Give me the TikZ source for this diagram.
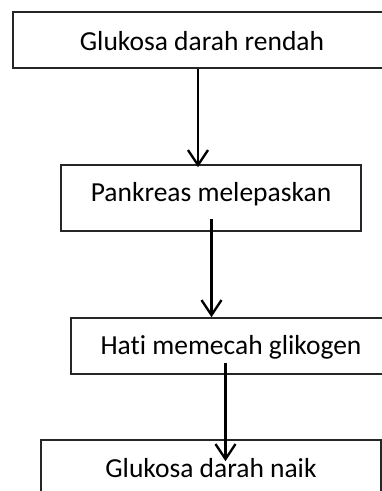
\documentclass[tikz,border=0pt]{standalone}
\usepackage{fontspec}
\setmainfont{Carlito}[Ligatures={NoCommon}]
\usetikzlibrary{arrows.meta}
\begin{document}
\begin{tikzpicture}[x=1pt,y=-1pt,
  box/.style={draw=black!85,line width=1.6pt,rectangle,inner sep=0pt},
  lbl/.style={font=\fontsize{27.5}{32}\selectfont,inner sep=0pt,anchor=center},
  arr/.style={line width=2.4pt,-{Straight Barb[length=15pt,width=20pt,line width=2.4pt]}}]
\useasboundingbox (0,0) rectangle (382,491);
\clip (0,0) rectangle (382,491);
\node[box,minimum width=378pt,minimum height=56pt] (b1) at (202,40) {};
\node[box,minimum width=300pt,minimum height=66pt] (b2) at (211,198) {};
\node[box,minimum width=320pt,minimum height=56pt] (b3) at (231,346) {};
\node[box,minimum width=340pt,minimum height=56pt] (b4) at (211,468) {};
\node[lbl] (t1) at (202,41) {Glukosa darah rendah};
\node[lbl] (t2) at (211,194) {Pankreas melepaskan};
\node[lbl] (t3) at (231,347) {Hati memecah glikogen};
\node[lbl] (t4) at (211,468) {Glukosa darah naik};
\coordinate (x1) at (198,0);
\coordinate (x2) at (211.5,0);
\coordinate (x3) at (225.5,0);
\draw[arr] (x1 |- b1.south) -- ([yshift=-3pt]x1 |- b2.north);
\draw[arr] ([yshift=13pt]x2 |- b2.south) -- (x2 |- b3.north);
\draw[arr] ([yshift=12pt]x3 |- b3.south) -- ([yshift=-22pt]x3 |- b4.north);
\end{tikzpicture}
\end{document}
